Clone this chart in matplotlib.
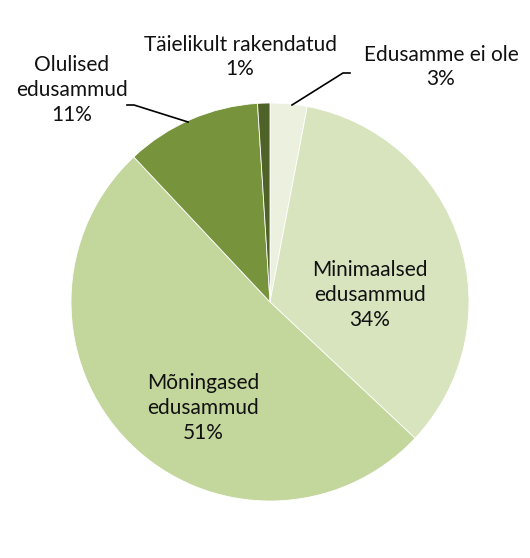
import matplotlib.pyplot as plt

categories = ["Edusamme ei ole", "Minimaalsed\nedusammud", "Mõningased\nedusammud",
              "Olulised\nedusammud", "Täielikult rakendatud"]
values = [3, 34, 51, 11, 1]
colors = ["#ebf1de", "#d7e4bd", "#c3d69b", "#77933c", "#4f6228"]

W, H = 530, 558
fig = plt.figure(figsize=(W / 100, H / 100), dpi=100)
ax = fig.add_axes([0, 0, 1, 1])

cx, cy, r = 270, H - 302, 199
ax.pie(values, colors=colors, startangle=90, counterclock=False,
       center=(cx, cy), radius=r, frame=True,
       wedgeprops=dict(edgecolor="white", linewidth=0.6))
ax.set_xlim(0, W)
ax.set_ylim(0, H)
ax.set_aspect("equal")
ax.axis("off")

font = dict(family="Lato", fontsize=15, color="#111111", ha="center", va="center",
            linespacing=1.3)

def lab(i, x, y):
    ax.text(x, H - y, f"{categories[i]}\n{values[i]}%", **font)

lab(0, 441, 67)
lab(1, 370, 295)
lab(2, 203, 408)
lab(3, 72, 90)
lab(4, 240, 57)

# leader lines
ax.plot([292, 343, 350], [H - 105, H - 73, H - 73], color="black", lw=1.2)
ax.plot([127, 134, 188], [H - 105, H - 105, H - 122], color="black", lw=1.2)

fig.savefig("out.png", dpi=100)
